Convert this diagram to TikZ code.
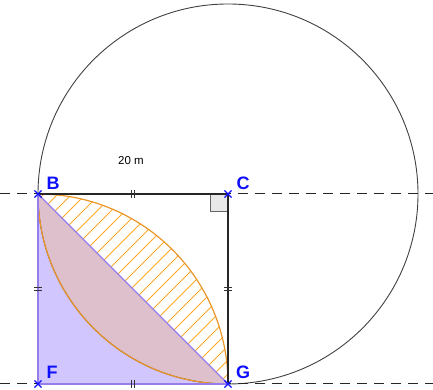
\documentclass[tikz,border=0pt]{standalone}
\usepackage{fontspec}
\setmainfont{Liberation Sans}
\usetikzlibrary{shapes.misc,calc}
\definecolor{lensorange}{RGB}{255,168,40}
\definecolor{arcorange}{RGB}{235,150,40}
\definecolor{trifill}{RGB}{210,198,255}
\definecolor{triedge}{RGB}{150,125,235}
\definecolor{lenspink}{RGB}{222,192,204}
\definecolor{anglegray}{RGB}{232,232,232}
\definecolor{ptblue}{RGB}{15,15,255}

\tikzset{
  ptmark/.style={cross out,draw=ptblue,line width=1.1pt,minimum size=6pt,inner sep=0pt},
  ptlabel/.style={text=ptblue,font=\fontsize{18}{18}\selectfont\bfseries},
  tickmark/.style={black!80,line width=1pt},
  axisline/.style={black!85,line width=1pt,dash pattern=on 10pt off 7pt}
}

\begin{document}
\begin{tikzpicture}[x=1pt,y=1pt]
  \useasboundingbox (0,0) rectangle (433,390);
  \coordinate (B) at (38,196);
  \coordinate (C) at (228,196);
  \coordinate (F) at (38,6);
  \coordinate (G) at (228,6);
  \coordinate (topL) at (0,196);  \coordinate (topR) at (433,196);
  \coordinate (botL) at (0,6);    \coordinate (botR) at (433,6);
  % triangle BFG
  \fill[trifill] (B) -- (F) -- (G) -- cycle;
  % lower half of the lens
  \fill[lenspink] (G) arc[start angle=270,end angle=180,radius=190] -- cycle;
  % hatched upper half
  \begin{scope}
    \clip (B) arc[start angle=90,end angle=0,radius=190] -- cycle;
    \foreach \k in {-250,-236,...,300}
      \draw[lensorange,line width=1pt] (\k,0) -- ++(300,300);
  \end{scope}
  % big circle round C
  \draw[black!75,line width=0.9pt] (C) circle[radius=190];
  \draw[arcorange,line width=1.2pt] (B) arc[start angle=90,end angle=0,radius=190];
  \draw[arcorange,line width=1.2pt] (G) arc[start angle=270,end angle=180,radius=190];
  % lines
  \draw[axisline] (topL) -- (topR);
  \draw[axisline] (botL) -- (botR);
  \filldraw[fill=anglegray,draw=black!60,line width=1pt] (C) rectangle ++(-18,-18);
  \draw[black!85,line width=1.1pt] (B) -- (C) -- (G);
  \draw[triedge,line width=1.1pt] (B) -- (G);
  \draw[triedge,line width=1.5pt] (B) -- (F) -- (G);
  % ticks
  \foreach \d in {-1.6,1.6} {
    \draw[tickmark] ($(B)!0.5!(C)+(\d,-4)$) -- ++(0,8);
    \draw[tickmark] ($(F)!0.5!(G)+(\d,-4)$) -- ++(0,8);
    \draw[tickmark] ($(B)!0.5!(F)+(-4,\d)$) -- ++(8,0);
    \draw[tickmark] ($(C)!0.5!(G)+(-4,\d)$) -- ++(8,0);
  }
  % labels
  \node[font=\fontsize{11.5}{12}\selectfont] (len) at ($(B)!0.5!(C)+(-2,33)$) {20 m};
  \node[ptlabel] (labB) at ($(B)+(15,11)$) {B};
  \node[ptlabel] (labC) at ($(C)+(15,11)$) {C};
  \node[ptlabel] (labF) at ($(F)+(14,12)$) {F};
  \node[ptlabel] (labG) at ($(G)+(15,12)$) {G};
  \node[ptmark] (mB) at (B) {};
  \node[ptmark] (mC) at (C) {};
  \node[ptmark] (mF) at (F) {};
  \node[ptmark] (mG) at (G) {};
\end{tikzpicture}
\end{document}
